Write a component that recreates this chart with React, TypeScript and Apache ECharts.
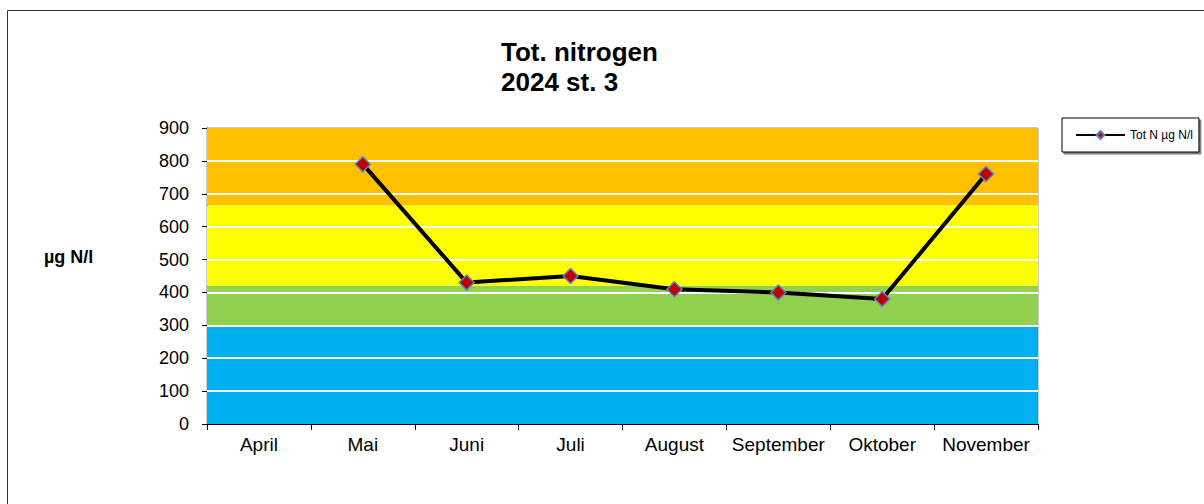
import React, { useEffect, useRef } from "react";
import * as echarts from "echarts";

const categories = ["April", "Mai", "Juni", "Juli", "August", "September", "Oktober", "November"];
const totN: (number | null)[] = [null, 790, 430, 450, 410, 400, 380, 760];
const yTicks = [0, 100, 200, 300, 400, 500, 600, 700, 800, 900];
const bands = [
  { from: 0, to: 300, color: "#00B0F0" },
  { from: 300, to: 420, color: "#92D050" },
  { from: 420, to: 665, color: "#FFFF00" },
  { from: 665, to: 900, color: "#FFC000" },
];
const titleLines = ["Tot. nitrogen", "2024 st. 3"];
const yAxisName = "µg N/l";
const seriesName = "Tot N µg N/l";

const FONT = "Liberation Sans, Arial, sans-serif";

export default function App() {
  const ref = useRef<HTMLDivElement>(null);
  useEffect(() => {
    if (!ref.current) return;
    const chart = echarts.init(ref.current, undefined, { renderer: "svg" });
    chart.setOption({
      animation: false,
      backgroundColor: "#fff",
      textStyle: { fontFamily: FONT },
      graphic: [
        {
          type: "rect",
          shape: { x: 7.5, y: 10.5, width: 1400, height: 700 },
          style: { fill: "none", stroke: "#333", lineWidth: 1 },
          z: -10,
          silent: true,
        },
        {
          type: "text",
          left: 501,
          top: 37,
          style: {
            text: titleLines.join("\n"),
            font: `bold 26px ${FONT}`,
            fill: "#000",
            lineHeight: 30,
          },
        },
        {
          type: "text",
          left: 44,
          top: 248,
          style: { text: yAxisName, font: `bold 18px ${FONT}`, fill: "#000" },
        },
      ],
      legend: {
        left: 1062,
        top: 118,
        orient: "vertical",
        itemWidth: 49,
        itemHeight: 10,
        itemGap: 0,
        padding: [11, 6, 11, 13],
        borderColor: "#000",
        borderWidth: 1,
        backgroundColor: "#fff",
        shadowColor: "rgba(0,0,0,0.5)",
        shadowOffsetX: 2,
        shadowOffsetY: 2,
        shadowBlur: 0,
        textStyle: { fontSize: 12, fontFamily: FONT, color: "#000", padding: [0, 0, 0, 0] },
        data: [seriesName],
      },
      grid: {
        left: 207,
        right: 166,
        top: 128,
        bottom: 80,
        show: true,
        borderColor: "#999",
        borderWidth: 1,
        backgroundColor: "transparent",
      },
      xAxis: {
        type: "category",
        data: categories,
        boundaryGap: true,
        axisLine: { show: true, lineStyle: { color: "#000", width: 1 } },
        axisTick: { show: true, interval: 0, alignWithLabel: false, length: 6, inside: false, lineStyle: { color: "#000" } },
        axisLabel: { interval: 0, fontSize: 19, color: "#000", margin: 11, fontFamily: FONT },
        splitLine: { show: false },
      },
      yAxis: {
        type: "value",
        min: 0,
        max: 900,
        interval: 100,
        axisLine: { show: true, lineStyle: { color: "#000", width: 1 } },
        axisTick: { show: true, length: 5, lineStyle: { color: "#000" } },
        axisLabel: { fontSize: 18, color: "#000", margin: 18, fontFamily: FONT },
        splitLine: { show: false },
      },
      series: [
        {
          name: "bands",
          type: "line",
          data: [],
          z: 1,
          silent: true,
          markArea: {
            silent: true,
            data: bands.map((b) => [
              { yAxis: b.from, itemStyle: { color: b.color } },
              { yAxis: b.to },
            ]),
          },
          markLine: {
            silent: true,
            symbol: "none",
            label: { show: false },
            lineStyle: { color: "#fff", width: 2, type: "solid" },
            data: yTicks.filter((v) => v > 0 && v < 900).map((v) => ({ yAxis: v })),
          },
        },
        {
          name: seriesName,
          type: "line",
          data: totN,
          z: 5,
          connectNulls: false,
          lineStyle: { color: "#000", width: 4 },
          itemStyle: { color: "#C00000", borderColor: "#5B86C5", borderWidth: 1.5 },
          symbol: "diamond",
          symbolSize: 15,
          showSymbol: true,
        },
      ],
    });
    return () => chart.dispose();
  }, []);
  return <div ref={ref} style={{ width: 1204, height: 504, position: "absolute", left: 0, top: 0 }} />;
}
